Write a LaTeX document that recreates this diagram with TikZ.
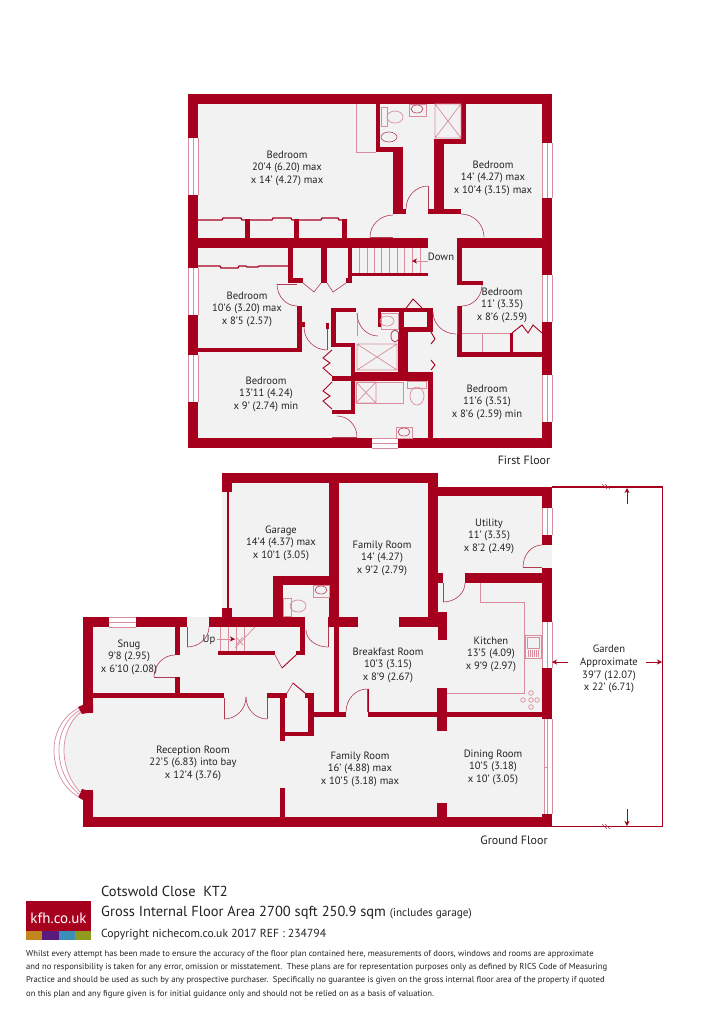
\documentclass[tikz,border=0pt]{standalone}
\usepackage{fontspec}
\setmainfont{PT Sans}
\usetikzlibrary{calc,arrows.meta}
\definecolor{wallc}{HTML}{A6001E}
\definecolor{floorc}{HTML}{F3F2F3}
\definecolor{linec}{HTML}{B03A52}
\definecolor{fixc}{HTML}{D98C9C}
\definecolor{textc}{HTML}{222222}
\definecolor{s1}{HTML}{C4871E}
\definecolor{s2}{HTML}{5B1A7E}
\definecolor{s3}{HTML}{3D8EB9}
\definecolor{s4}{HTML}{8F9A1E}
\tikzset{
  arcl/.style={draw=linec,line width=.6pt},
  zig/.style={draw=wallc,line width=.9pt},
  fixl/.style={draw=fixc,line width=.7pt},
  thick wall/.style={draw=wallc,line width=1.3pt},
  winl/.style={draw=fixc,line width=.7pt},
  room/.style={align=center,font=\fontsize{10.6}{12.7}\selectfont,text=textc,inner sep=0pt,yshift=-1.2pt},
  lab/.style={anchor=west,text=textc,inner sep=0pt},
  tip/.style={-{Stealth[length=5pt,width=5pt]},draw=wallc,line width=.5pt}
}
\newcommand{\wl}[4]{\fill[wallc] (#1,#2) rectangle (#3,#4);}
\newcommand{\qarc}[6]{\draw[arcl] (#1,#2) .. controls ($(#1,#2)!.55!(#3,#4)$) and ($(#5,#6)!.55!(#3,#4)$) .. (#5,#6);}
\newcommand{\vwin}[4]{\fill[white] (#1,#3) rectangle (#2,#4);
  \draw[winl] (#1,#3) -- (#1,#4) ($(#1,#3)!.5!(#2,#3)$) -- ($(#1,#4)!.5!(#2,#4)$) (#2,#3) -- (#2,#4);}
\newcommand{\hwin}[4]{\fill[white] (#1,#3) rectangle (#2,#4);
  \draw[winl] (#1,#3) -- (#2,#3) ($(#1,#3)!.5!(#1,#4)$) -- ($(#2,#3)!.5!(#2,#4)$) (#1,#4) -- (#2,#4);}
\newcommand{\xbox}[4]{\draw[fixl] (#1,#2) rectangle (#3,#4) (#1,#2) -- (#3,#4) (#1,#4) -- (#3,#2);}
\begin{document}
\begin{tikzpicture}[x=1pt,y=-1pt]
\useasboundingbox (0,0) rectangle (715,1033);
\fill[white] (0,0) rectangle (715,1033);
% floors
\fill[floorc] (188,94) rectangle (552,448);
\fill[floorc] (222,473) -- (438,473) -- (438,487) -- (552,487) -- (552,827) -- (83,827) -- (83,790)
  -- (80,793) .. controls (70,782) and (64,766) .. (64,750) .. controls (64,734) and (70,720) .. (80,710) -- (83,712) -- (83,617) -- (222,617) -- cycle;
% ---------- FIRST FLOOR ----------
\wl{188}{94}{552}{104}
\wl{188}{438}{552}{448}
\wl{188}{94}{198}{448}
\wl{542}{94}{552}{448}
\vwin{188}{198}{138}{195}
\vwin{188}{198}{268}{315}
\vwin{188}{198}{355}{402}
\vwin{542}{552}{143}{198}
\vwin{542}{552}{275}{322}
\vwin{542}{552}{375}{422}
\hwin{372}{398}{438}{448}
% main cross walls
\wl{198}{238}{428}{248}
\wl{457}{238}{542}{248}
\wl{245}{219}{250}{238}
\wl{294}{219}{299}{238}
\wl{342}{219}{347}{238}
\draw[thick wall] (198,220) -- (222,220) -- (223,218) -- (241,218) -- (242,220) -- (246,220)
  (250,220) -- (272,220) -- (273,218) -- (291,218) -- (292,220) -- (295,220)
  (299,220) -- (321,220) -- (322,218) -- (338,218) -- (339,220) -- (347,220);
\draw[thick wall] (198,266) -- (220,266) -- (221,268) -- (238,268) -- (239,266) -- (246,266) -- (247,267) -- (258,267) -- (259,266) -- (288,266);
% upper bath
\draw[fixl] (356,104) -- (356,152) -- (376,152);
\wl{376}{104}{380}{152}
\wl{376}{147}{403}{152}
\wl{393}{147}{403}{214}
\wl{434}{139}{444}{214}
\wl{434}{139}{466}{144}
\wl{461}{104}{466}{144}
\wl{393}{209}{406}{214}
\wl{428}{209}{461}{214}
\draw[fixl] (381,107) rectangle (387,126);
\draw[fixl] (395,117) ellipse [x radius=8,y radius=6];
\draw[arcl] (389,137) ellipse [x radius=8,y radius=5];
\draw[fixl] (409,104) rectangle (426,116);
\draw[arcl] (417,109) ellipse [x radius=6,y radius=4];
\xbox{435}{104}{461}{138}
% doors top
\draw[arcl] (428,186) -- (428,209);
\qarc{428}{186}{406}{186}{406}{209}
\draw[arcl] (370,237) -- (393,237);
\qarc{370}{237}{370}{215}{393}{215}
\qarc{461}{214}{484}{214}{484}{237}
% stairs
\foreach \tx in {359,367,374,381,389,397,404,412,420}{\draw[fixl] (\tx,248) -- (\tx,274);}
\wl{348}{248}{352}{282}
\wl{288}{248}{293}{283}
\wl{321}{248}{327}{283}
\wl{288}{278}{303}{283}
\wl{346}{278}{352}{283}
\wl{352}{273}{428}{276}
\draw[draw=fixc,line width=.6pt] (428,261) -- (412,261);
\draw[tip] (416,261) -- (412,261);
\node[inner sep=0pt,text=textc,font=\fontsize{10.6}{12}\selectfont] (down) at (441,256.5) {Down};
% closet doors by stairs
\draw[arcl] (303,283) -- (314,292) -- (321,283) (327,283) -- (333,292) -- (346,283);
% right bedroom 11'
\wl{457}{238}{462}{283}
\wl{457}{281}{483}{285}
\wl{457}{306}{462}{357}
\wl{457}{352}{542}{357}
\qarc{462}{306}{482}{306}{482}{285}
\draw[fixl] (462,333) -- (511,333) (482,333) -- (482,352);
\wl{510}{333}{513}{352}
\draw[zig] (512,333) -- (522,325) -- (528,333) -- (533,325) -- (542,333);
% left bedroom 10'6
\wl{198}{348}{302}{352}
\wl{297}{306}{302}{352}
\wl{302}{322}{305}{327}
\draw[arcl] (277,284) -- (297,284);
\qarc{277}{284}{277}{306}{297}{306}
\qarc{304}{327}{304}{350}{327}{350}
\draw[arcl] (327,327) -- (327,350);
\wl{326}{323}{329}{329}
% central block
\wl{331}{308}{356}{312}
\wl{331}{308}{336}{347}
\wl{331}{343}{355}{347}
\wl{351}{343}{355}{412}
\wl{332}{376}{351}{381}
\wl{332}{410}{355}{414}
\wl{378}{308}{433}{312}
\wl{378}{308}{381}{327}
\wl{399}{312}{404}{332}
\wl{399}{327}{433}{332}
\wl{398}{332}{408}{372}
\wl{427}{308}{433}{332}
\wl{351}{372}{432}{381}
\wl{428}{372}{433}{438}
\draw[fixl] (357,313) -- (357,336);
\qarc{357}{313}{357}{336}{378}{336}
\qarc{433}{312}{433}{334}{456}{334}
\draw[arcl] (457,306) -- (457,334);
\draw[zig] (404,311) -- (413,299) -- (425,311);
\draw[zig] (332,350) -- (323,358) -- (330,363) -- (323,368) -- (332,376);
\draw[zig] (332,382) -- (323,391) -- (330,396) -- (323,401) -- (332,409);
\draw[zig] (431,332) -- (435,339) -- (431,344) (431,360) -- (435,365) -- (431,370);
% fixtures middle
\xbox{357}{344}{397}{370}
\draw[fixl] (356,382) rectangle (403,403);
\xbox{356}{382}{376}{403}
\draw[fixl] (381,313) rectangle (398,329);
\draw[fixl] (387,321) ellipse [x radius=7,y radius=5];
\draw[draw=linec,line width=.8pt] (395,336) ellipse [x radius=4,y radius=6];
\draw[fixl] (407,381) rectangle (426,388);
\draw[fixl] (417,396) ellipse [x radius=7,y radius=9];
\draw[fixl] (396,427) rectangle (412,438);
\draw[arcl] (404,432) ellipse [x radius=6,y radius=4];
\qarc{337}{416}{357}{416}{357}{437}
\draw[arcl] (332,437) -- (357,437);
% room labels first floor
\node[room] (r1) at (287,167) {Bedroom\\20'4 (6.20) max\\x 14' (4.27) max};
\node[room] (r2) at (493,177) {Bedroom\\14' (4.27) max\\x 10'4 (3.15) max};
\node[room] (r3) at (247,308) {Bedroom\\10'6 (3.20) max\\x 8'5 (2.57)};
\node[room] (r4) at (502,304) {Bedroom\\11' (3.35)\\x 8'6 (2.59)};
\node[room] (r5) at (266,393) {Bedroom\\13'11 (4.24)\\x 9' (2.74) min};
\node[room] (r6) at (487,401) {Bedroom\\11'6 (3.51)\\x 8'6 (2.59) min};
\node[inner sep=0pt,text=textc,font=\fontsize{12}{13}\selectfont] (ff) at (524,460) {First Floor};
% ---------- GROUND FLOOR ----------
\wl{222}{473}{438}{483}
\wl{222}{473}{232}{492}
\fill[wallc] (227,492) rectangle (228.5,608);
\wl{222}{608}{232}{617}
\wl{329}{483}{339}{622}
\wl{334}{617}{339}{712}
\wl{328}{617}{358}{627}
\wl{428}{473}{438}{622}
\wl{399}{617}{447}{627}
\wl{438}{612}{447}{640}
\wl{438}{487}{552}{496}
\wl{542}{487}{552}{719}
\vwin{542}{552}{508}{535}
\fill[floorc] (542,545) rectangle (552,568);
\vwin{542}{552}{622}{668}
\wl{465}{573}{542}{583}
\wl{438}{573}{443}{583}
\draw[arcl] (443,583) -- (443,602);
\qarc{443}{602}{465}{602}{465}{583}
\draw[arcl] (523,567) -- (542,567);
\qarc{523}{567}{523}{545}{542}{545}
\draw[fixl] (480,583) -- (480,602) -- (524,602) -- (524,693) -- (447,693);
% sink
\draw[fixl] (525,635) rectangle (541,658);
\draw[fixl] (527,637) rectangle (539,648);
\foreach \sx in {528,530,532,534,536,538}{\draw[fixl] (\sx,650) -- (\sx,657);}
% hob
\foreach \hx/\hy in {531/693,523/700,531/700,537/700,531/707}{\draw[fixl] (\hx,\hy) circle (2.3);}
% lower walls
\wl{83}{817}{552}{827}
\wl{83}{617}{93}{713}
\wl{83}{790}{93}{827}
\wl{83}{617}{187}{627}
\hwin{109}{136}{617}{627}
\wl{175}{627}{180}{655}
\wl{175}{677}{180}{693}
\wl{93}{693}{224}{698}
\wl{267}{693}{287}{698}
\wl{305}{693}{314}{698}
\wl{209}{617}{305}{627}
\wl{273}{576}{283}{617}
\wl{273}{576}{339}{585}
\wl{300}{622}{305}{655}
\wl{218}{651}{275}{655}
\wl{296}{651}{305}{655}
\wl{280}{693}{285}{741}
\wl{280}{788}{285}{817}
\wl{308}{693}{314}{736}
\wl{285}{732}{314}{736}
\wl{314}{712}{346}{717}
\wl{368}{712}{547}{717}
\wl{367}{689}{369}{712}
\wl{437}{688}{447}{731}
\wl{437}{803}{447}{817}
% bay stubs
\fill[wallc] (78,707) -- (85,704) -- (93,704) -- (93,712) -- (82,714) -- cycle;
\fill[wallc] (78,797) -- (82,789) -- (93,792) -- (93,800) -- (83,800) -- cycle;
% bay arcs
\draw[winl] (79,708) .. controls (62,716) and (54,734) .. (54,750) .. controls (54,768) and (62,788) .. (79,797);
\draw[winl] (80,710) .. controls (66,718) and (59,734) .. (59,750) .. controls (59,767) and (66,784) .. (80,795);
\draw[winl] (81,712) .. controls (70,720) and (64,736) .. (64,750) .. controls (64,766) and (70,782) .. (81,793);
% dining window
\fill[white] (544,719) rectangle (552,814);
\draw[winl] (544,719) -- (544,767) -- (547,767) -- (547,719) (552,719) -- (552,814) (547,767) -- (547,814) (544,767) -- (544,814);
\wl{542}{814}{552}{827}
% doors ground floor
\draw[arcl] (367,689) -- (367,712);
\qarc{367}{689}{346}{689}{346}{712}
\draw[arcl] (224,698) -- (224,719);
\qarc{224}{719}{246}{719}{246}{697}
\qarc{246}{697}{246}{719}{267}{719}
\draw[arcl] (267,698) -- (267,719);
\draw[arcl] (154,677) -- (175,677);
\qarc{154}{677}{154}{655}{175}{655}
\draw[arcl] (187,627) -- (187,647);
\qarc{187}{647}{209}{647}{209}{627}
\qarc{306}{630}{306}{647}{328}{647}
\draw[arcl] (328,627) -- (328,647);
\draw[arcl] (275,655) -- (282,668);
\draw[zig] (282,668) -- (296,655);
\draw[arcl] (287,693) -- (293,683);
\draw[zig] (293,683) -- (305,693);
% stairs ground floor
\foreach \tx in {220,228,236,244}{\draw[fixl] (\tx,627) -- (\tx,651);}
\draw[fixl] (235,648) -- (255,627) (236,637) -- (243,645) (236,645) -- (243,637);
\draw[draw=fixc,line width=.6pt] (217,639) -- (235,639);
\draw[tip] (231,639) -- (235,639);
\node[inner sep=0pt,text=textc,font=\fontsize{10.6}{12}\selectfont] (up) at (209,640) {Up};
% garage wc
\draw[fixl] (283,598) rectangle (291,616);
\draw[fixl] (298,606) ellipse [x radius=8,y radius=6];
\draw[fixl] (313,585) rectangle (329,597);
\draw[arcl] (321,590) ellipse [x radius=6,y radius=4];
% garden
\coordinate (g1) at (552,487);
\coordinate (g2) at (662.5,487);
\coordinate (g3) at (662.5,826.5);
\coordinate (g4) at (552,826.5);
\draw[draw=wallc,line width=1.2pt] (g1) -- (g2) -- (g3) -- (g4);
\draw[arcl] (602,484) -- (607,489) (605,484) -- (610,489) (602,824) -- (607,829) (605,824) -- (610,829);
\coordinate (a1) at (627,504); \coordinate (a1t) at (627,488);
\coordinate (a2) at (627,809); \coordinate (a2t) at (627,826);
\coordinate (a3) at (568,662); \coordinate (a3t) at (552,662);
\coordinate (a4) at (646,662); \coordinate (a4t) at (662,662);
\draw[tip] (a1) -- (a1t);
\draw[tip] (a2) -- (a2t);
\draw[tip] (a3) -- (a3t);
\draw[tip] (a4) -- (a4t);
% labels ground floor
\node[room] (g-garage) at (281,542) {Garage\\14'4 (4.37) max\\x 10'1 (3.05)};
\node[room] (g-fam1) at (382,557) {Family Room\\14' (4.27)\\x 9'2 (2.79)};
\node[room] (g-util) at (489,535) {Utility\\11' (3.35)\\x 8'2 (2.49)};
\node[room] (g-kit) at (491,653) {Kitchen\\13'5 (4.09)\\x 9'9 (2.97)};
\node[room] (g-bf) at (388,664) {Breakfast Room\\10'3 (3.15)\\x 8'9 (2.67)};
\node[room] (g-snug) at (129,656) {Snug\\9'8 (2.95)\\x 6'10 (2.08)};
\node[room] (g-rec) at (193,762) {Reception Room\\22'5 (6.83) into bay\\x 12'4 (3.76)};
\node[room] (g-fam2) at (360,768) {Family Room\\16' (4.88) max\\x 10'5 (3.18) max};
\node[room] (g-din) at (493,766) {Dining Room\\10'5 (3.18)\\x 10' (3.05)};
\node[room] (g-gard) at (609,668) {Garden\\Approximate\\39'7 (12.07)\\x 22' (6.71)};
\node[inner sep=0pt,text=textc,font=\fontsize{12}{13}\selectfont] (gf) at (514,840) {Ground Floor};
% ---------- FOOTER ----------
\fill[wallc] (26,901) rectangle (91,931);
\fill[s1] (26,931) rectangle (42,940);
\fill[s2] (42,931) rectangle (58.5,940);
\fill[s3] (58.5,931) rectangle (75,940);
\fill[s4] (75,931) rectangle (91,940);
\node[inner sep=0pt,text=white,font=\fontsize{15}{16}\selectfont] (logo) at (58.5,918) {kfh.co.uk};
\node[lab,font=\fontsize{14.5}{15}\selectfont] (t1) at (101,891) {Cotswold Close\ \ KT2};
\node[lab,font=\fontsize{14.5}{15}\selectfont] (t2) at (101,913) {Gross Internal Floor Area 2700 sqft 250.9 sqm {\fontsize{11.2}{12}\selectfont (includes garage)}};
\node[lab,font=\fontsize{11.7}{13}\selectfont] (t3) at (101,935) {Copyright nichecom.co.uk 2017 REF : 234794};
\node[lab,font=\fontsize{8.6}{9}\selectfont] (d1) at (26,954) {Whilst every attempt has been made to ensure the accuracy of the floor plan contained here, measurements of doors, windows and rooms are approximate};
\node[lab,font=\fontsize{8.6}{9}\selectfont] (d2) at (26,967) {and no responsibility is taken for any error, omission or misstatement.\ \ These plans are for representation purposes only as defined by RICS Code of Measuring};
\node[lab,font=\fontsize{8.6}{9}\selectfont] (d3) at (26,980) {Practice and should be used as such by any prospective purchaser.\ \ Specifically no guarantee is given on the gross internal floor area of the property if quoted};
\node[lab,font=\fontsize{8.6}{9}\selectfont] (d4) at (26,994) {on this plan and any figure given is for initial guidance only and should not be relied on as a basis of valuation.};
\end{tikzpicture}
\end{document}
